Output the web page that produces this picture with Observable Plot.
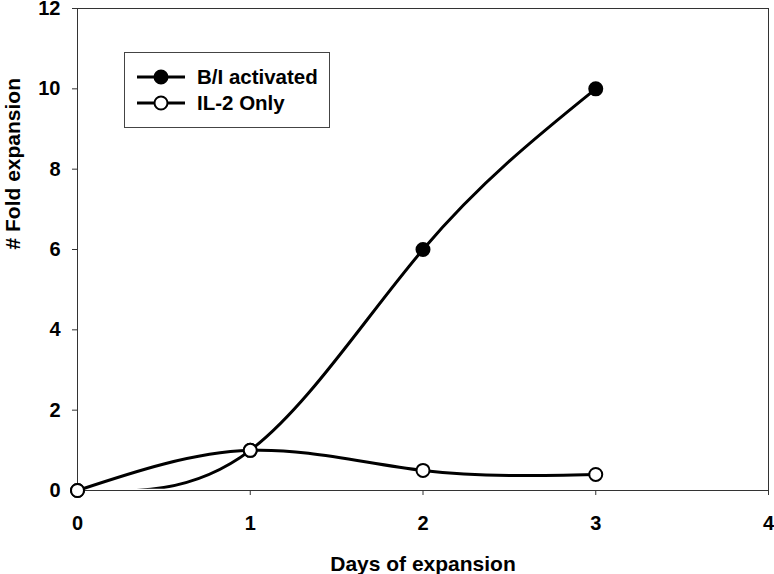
<!DOCTYPE html>
<html>
<head>
<meta charset="utf-8">
<script src="https://cdn.jsdelivr.net/npm/d3@7"></script>
<script src="https://cdn.jsdelivr.net/npm/@observablehq/plot@0.6"></script>
<style>
  body { margin: 0; background: #fff; font-family: "Liberation Sans", Arial, sans-serif; }
  #wrap { position: relative; width: 774px; height: 574px; }
  #legend { position: absolute; left: 124px; top: 52px; width: 206px; height: 76px; border: 1px solid #444; background: #fff; box-sizing: border-box; }
  #legend .row { position: absolute; left: 10px; height: 24px; display: flex; align-items: center; font-weight: bold; font-size: 20.5px; color: #000; white-space: nowrap; }
  #legend svg { margin-right: 10px; }
</style>
</head>
<body>
<div id="wrap"></div>
<script>
const days = [0, 1, 2, 3];
const biActivated = [0, 1, 6, 10];
const il2Only = [0, 1, 0.5, 0.4];
const seriesNames = ["B/I activated", "IL-2 Only"];
const xTicks = [0, 1, 2, 3, 4];
const yTicks = [0, 2, 4, 6, 8, 10, 12];

const bi = days.map((d, i) => ({day: d, value: biActivated[i]}));
const il2 = days.map((d, i) => ({day: d, value: il2Only[i]}));

const chart = Plot.plot({
  width: 774,
  height: 574,
  marginLeft: 77,
  marginRight: 6,
  marginTop: 8,
  marginBottom: 84,
  style: {fontFamily: "'Liberation Sans', Arial, sans-serif", background: "#fff", overflow: "visible"},
  x: {domain: [0, 4]},
  y: {domain: [0, 12]},
  marks: [
    Plot.frame({stroke: "#333", strokeWidth: 1}),
    Plot.axisX({ticks: xTicks, tickFormat: d3.format("d"), tickSize: 5, tickPadding: 20, fontSize: 20, fontWeight: "bold", label: null, stroke: "#333", fill: "#000"}),
    Plot.axisY({ticks: yTicks, tickFormat: d3.format("d"), tickSize: 5, tickPadding: 12, fontSize: 20, fontWeight: "bold", label: null, stroke: "#333", fill: "#000"}),
    Plot.line(bi, {x: "day", y: "value", curve: "natural", stroke: "#000", strokeWidth: 3, clip: true}),
    Plot.line(il2, {x: "day", y: "value", curve: "natural", stroke: "#000", strokeWidth: 3}),
    Plot.dot(bi, {x: "day", y: "value", r: 6.5, fill: "#000", stroke: "#000", strokeWidth: 2}),
    Plot.dot(il2, {x: "day", y: "value", r: 6.5, fill: "#fff", stroke: "#000", strokeWidth: 2}),
    Plot.text(["Days of expansion"], {frameAnchor: "bottom", dy: 80, fontSize: 21, fontWeight: "bold", fill: "#000"}),
    Plot.text(["# Fold expansion"], {frameAnchor: "left", rotate: -90, dx: -64, fontSize: 21, fontWeight: "bold", fill: "#000"})
  ]
});
// The spline of the activated series dips under zero near day 0; the reference hides that part.
const clipRect = chart.querySelector("clipPath rect");
if (clipRect) {
  const h = +clipRect.getAttribute("height");
  clipRect.setAttribute("height", h - 1.2);
}
const wrap = document.getElementById("wrap");
wrap.appendChild(chart);

const legend = document.createElement("div");
legend.id = "legend";
const fills = ["#000", "#fff"];
seriesNames.forEach((name, i) => {
  const row = document.createElement("div");
  row.className = "row";
  row.style.top = (12 + i * 26) + "px";
  row.innerHTML = `<svg width="52" height="20"><line x1="2" y1="10" x2="50" y2="10" stroke="#000" stroke-width="3"/><circle cx="26" cy="10" r="6.5" fill="${fills[i]}" stroke="#000" stroke-width="2"/></svg><span>${name}</span>`;
  legend.appendChild(row);
});
wrap.appendChild(legend);
</script>
</body>
</html>
